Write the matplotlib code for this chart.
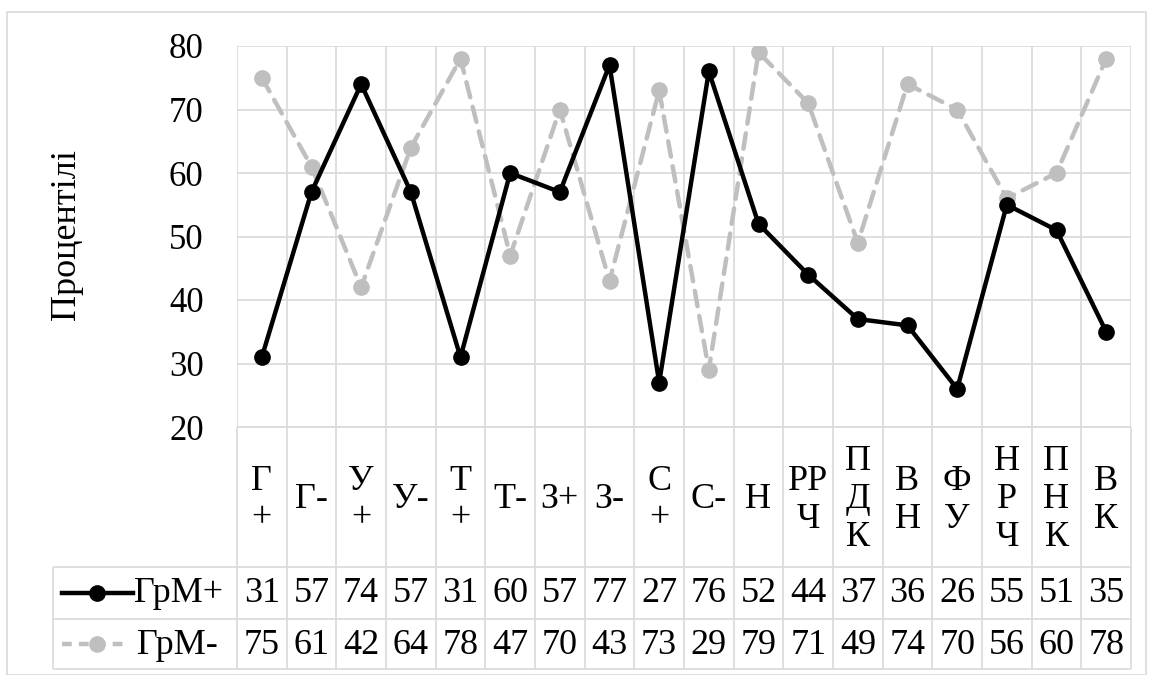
import matplotlib.pyplot as plt
import matplotlib.transforms as mtransforms
from matplotlib.patches import Rectangle

# data
categories = ["Г\n+", "Г-", "У\n+", "У-", "Т\n+", "Т-", "З+", "З-", "С\n+", "С-",
              "Н", "РР\nЧ", "П\nД\nК", "В\nН", "Ф\nУ", "Н\nР\nЧ", "П\nН\nК", "В\nК"]
grm_plus = [31, 57, 74, 57, 31, 60, 57, 77, 27, 76, 52, 44, 37, 36, 26, 55, 51, 35]
grm_minus = [75, 61, 42, 64, 78, 47, 70, 43, 73, 29, 79, 71, 49, 74, 70, 56, 60, 78]
series_names = ["ГрМ+", "ГрМ-"]
y_ticks = [20, 30, 40, 50, 60, 70, 80]

plt.rcParams['font.family'] = ['Liberation Serif', 'DejaVu Serif']

W, H = 1153, 675
grid_c = '#D9D9D9'
gray = '#BFBFBF'
fs = 26

fig = plt.figure(figsize=(W / 100, H / 100), dpi=100)

# outer chart border
fig.patches.append(Rectangle((7 / W, 0), (1146 - 7) / W, 1 - 12 / H,
                             transform=fig.transFigure, fill=False,
                             edgecolor=grid_c, lw=1.2))

L, R, T, B = 237, 1131, 46, 427
ax = fig.add_axes([L / W, 1 - B / H, (R - L) / W, (B - T) / H])

n = len(categories)
x = list(range(n))

ax.plot(x, grm_minus, color=gray, lw=3.2, dashes=(3.5, 2.2), marker='o',
        markersize=11, zorder=3, dash_capstyle='round')
ax.plot(x, grm_plus, color='black', lw=3.2, marker='o', markersize=11, zorder=4)

ax.set_xlim(-0.5, n - 0.5)
ax.set_ylim(20, 80)
ax.set_yticks(y_ticks)
ax.set_xticks([])
ax.set_xticks([i - 0.5 for i in range(n + 1)], minor=True)
ax.tick_params(axis='x', which='both', length=0, labelbottom=False)
ax.tick_params(axis='y', length=0, pad=24, labelsize=25)
ax.grid(axis='y', which='major', color=grid_c, lw=1.2)
ax.grid(axis='x', which='minor', color=grid_c, lw=1.2)
for s in ax.spines.values():
    s.set_visible(False)
ax.set_axisbelow(True)

fig.text(67 / W, 1 - 235 / H, "Процентілі", rotation=90, ha='center',
         va='center', fontsize=26)

# data table below the plot
tr = mtransforms.blended_transform_factory(ax.transData, ax.transAxes)


def yfrac(py):
    return (B - py) / (B - T)


col = (R - L) / n


def xdata(px):
    return -0.5 + (px - L) / col


row_top = yfrac(B)
row_cat = yfrac(567)
row_p = yfrac(619)
row_m = yfrac(669)
x_leg = xdata(53)

line_kw = dict(color=grid_c, lw=1.2, transform=tr, clip_on=False, zorder=1)
ax.hlines([row_top], -0.5, n - 0.5, **line_kw)
ax.hlines([row_cat, row_p, row_m], x_leg, n - 0.5, **line_kw)
ax.vlines([i - 0.5 for i in range(n + 1)], row_m, 0, **line_kw)
ax.vlines([x_leg], row_m, row_cat, **line_kw)

for i, lab in enumerate(categories):
    ax.text(i, yfrac(500), lab, transform=tr, ha='center', va='center',
            fontsize=fs, linespacing=1.2, clip_on=False)

for i in range(n):
    ax.text(i, yfrac(594), str(grm_plus[i]), transform=tr, ha='center',
            va='center', fontsize=fs, clip_on=False)
    ax.text(i, yfrac(645), str(grm_minus[i]), transform=tr, ha='center',
            va='center', fontsize=fs, clip_on=False)

# legend keys in the table
ax.plot([xdata(62), xdata(97), xdata(133)], [yfrac(593)] * 3, color='black',
        lw=3.2, marker='o', markersize=11, markevery=[1], transform=tr,
        clip_on=False)
ax.plot([xdata(62), xdata(97), xdata(125)], [yfrac(644)] * 3, color=gray,
        lw=3.2, dashes=(2.2, 1.6), marker='o', markersize=11, markevery=[1],
        transform=tr, clip_on=False)
ax.text(xdata(134), yfrac(594), series_names[0], transform=tr, ha='left',
        va='center', fontsize=fs, clip_on=False)
ax.text(xdata(137), yfrac(645), series_names[1], transform=tr, ha='left',
        va='center', fontsize=fs, clip_on=False)

fig.savefig("out.png", dpi=100)
